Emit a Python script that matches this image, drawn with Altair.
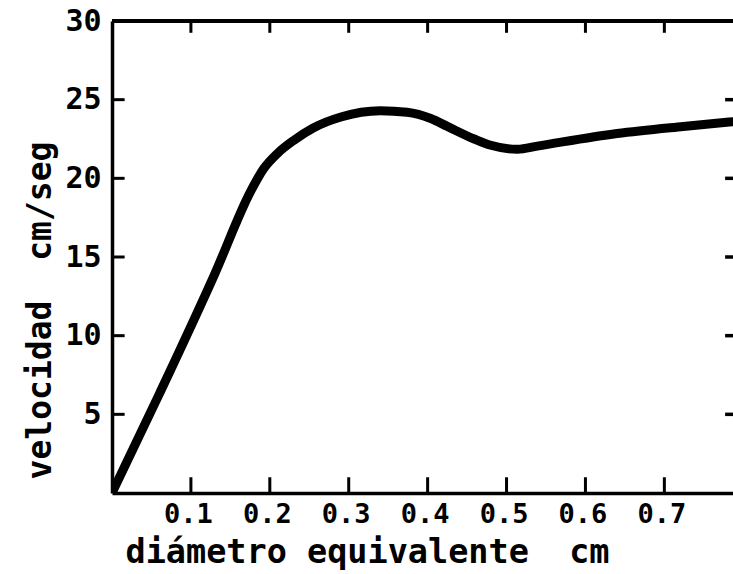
import altair as alt
import pandas as pd

# Settling velocity vs. equivalent diameter
diametro = [0, 0.06, 0.13, 0.176, 0.192, 0.21, 0.23,
            0.255, 0.29, 0.34, 0.374, 0.404, 0.425, 0.459, 0.48, 0.514, 0.539,
            0.64, 0.724, 0.787]
velocidad = [0, 6.3, 13.9, 19.2, 20.6, 21.6, 22.4,
             23.2, 23.9, 24.3, 24.2, 23.8, 23.3, 22.5, 22.1, 21.85, 22.05,
             22.85, 23.3, 23.6]

x_ticks = [0.1, 0.2, 0.3, 0.4, 0.5, 0.6, 0.7]
y_ticks = [5, 10, 15, 20, 25]
y_labels = [5, 10, 15, 20, 25, 30]

X_MAX = 0.787
Y_MAX = 30
INK = "#000000"
MONO = "DejaVu Sans Mono"

xs = alt.Scale(domain=[0, X_MAX], nice=False, zero=False)
ys = alt.Scale(domain=[0, Y_MAX], nice=False, zero=False)

curve_df = pd.DataFrame({"d": diametro, "v": velocidad})
xt_df = pd.DataFrame({"t": x_ticks})
yt_df = pd.DataFrame({"t": y_ticks})

x_axis = alt.Axis(
    values=x_ticks, format=".1f", ticks=False, grid=False,
    domainColor=INK, domainWidth=3.5,
    labelFont=MONO, labelFontSize=27, labelFontWeight="bold", labelColor=INK,
    labelPadding=8, labelOffset=-3,
    title="diámetro\u00a0equivalente\u00a0\u00a0cm",
    titleFont=MONO, titleFontSize=33.5, titleFontWeight="bold", titleColor=INK,
    titleX=255, titleY=69, titleAlign="center", titleBaseline="alphabetic",
)
y_axis = alt.Axis(
    values=y_labels, ticks=False, grid=False,
    domainColor=INK, domainWidth=3.5,
    labelFont=MONO, labelFontSize=30, labelFontWeight="bold", labelColor=INK,
    labelPadding=11,
    title="velocidad\u00a0\u00a0cm/seg",
    titleFont=MONO, titleFontSize=33, titleFontWeight="bold", titleColor=INK,
    titleX=-62, titleY=289, titleAlign="center", titleBaseline="alphabetic",
    titleAngle=270,
)

curve = alt.Chart(curve_df).mark_line(
    color=INK, strokeWidth=9, interpolate="monotone", strokeCap="round", clip=True
).encode(
    x=alt.X("d:Q", scale=xs, axis=x_axis),
    y=alt.Y("v:Q", scale=ys, axis=y_axis),
)

# top frame line
top_line = alt.Chart(curve_df).mark_rule(color=INK, strokeWidth=3.5).encode(
    x=alt.datum(0, scale=xs), x2=alt.datum(X_MAX), y=alt.datum(Y_MAX, scale=ys)
)

# inward ticks on all four sides
bottom_ticks = alt.Chart(xt_df).mark_rule(color=INK, strokeWidth=3).encode(
    x=alt.X("t:Q", scale=xs), y=alt.datum(0, scale=ys), y2=alt.datum(1.0)
)
top_ticks = alt.Chart(xt_df).mark_rule(color=INK, strokeWidth=3).encode(
    x=alt.X("t:Q", scale=xs), y=alt.datum(Y_MAX, scale=ys), y2=alt.datum(Y_MAX - 0.75)
)
left_ticks = alt.Chart(yt_df).mark_rule(color=INK, strokeWidth=3).encode(
    y=alt.Y("t:Q", scale=ys), x=alt.datum(0, scale=xs), x2=alt.datum(0.016)
)
right_ticks = alt.Chart(yt_df).mark_rule(color=INK, strokeWidth=3.5).encode(
    y=alt.Y("t:Q", scale=ys), x=alt.datum(X_MAX - 0.010, scale=xs), x2=alt.datum(X_MAX)
)

chart = alt.layer(
    top_line, bottom_ticks, top_ticks, left_ticks, right_ticks, curve
).properties(
    width=621, height=472,
    padding={"left": 112, "top": 21, "right": 0, "bottom": 81},
    autosize=alt.AutoSizeParams(type="none"),
    background="white",
).configure_view(stroke=None)

chart.save("out.html", embed_options={"renderer": "svg", "actions": False})
